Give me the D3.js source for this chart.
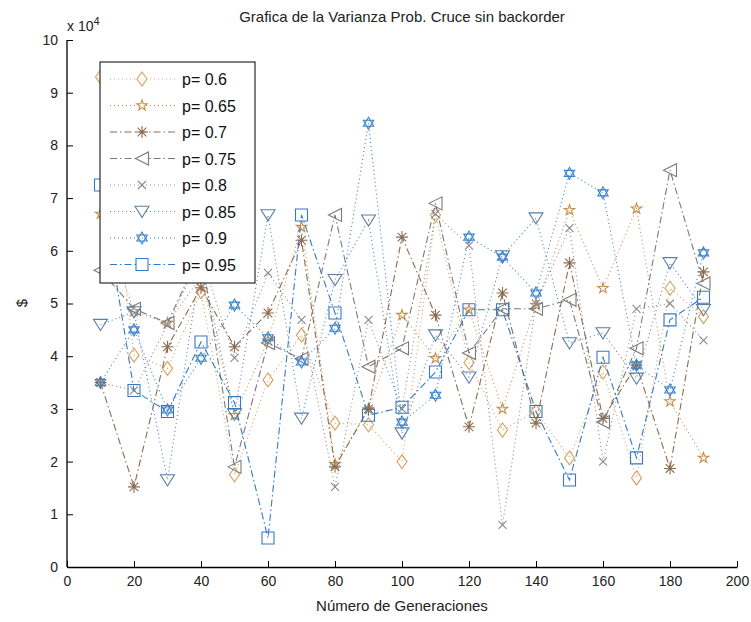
<!DOCTYPE html>
<html><head><meta charset="utf-8">
<script src="https://cdn.jsdelivr.net/npm/d3@7"></script>
<style>body{margin:0;background:#fff}svg{font-family:"Liberation Sans",Arial,sans-serif}</style>
</head><body><svg id="c" width="751" height="622"></svg>
<script>
const generations = [10,20,30,40,50,60,70,80,90,100,110,120,130,140,150,160,170,180,190];
const seriesNames = ["p= 0.6","p= 0.65","p= 0.7","p= 0.75","p= 0.8","p= 0.85","p= 0.9","p= 0.95"];
const p060 = [93000,40200,37700,52200,17500,35500,44000,27300,27000,20000,66800,38800,26000,29500,20700,37000,16900,52900,47500];
const p065 = [67000,48500,46300,55000,28800,43000,64500,19500,30000,47800,39600,48800,30000,49700,67700,52900,68000,31400,20700];
const p070 = [35000,15200,41800,53000,41800,48200,62000,19000,30000,62600,47800,26600,52000,27300,57700,28200,38300,18700,56000];
const p075 = [56300,49000,46300,60000,19000,42500,39500,66800,38000,41500,69000,40600,49000,49000,50700,27500,41500,75300,53800];
const p080 = [35000,33500,46000,59000,39700,55800,46900,15200,46900,30000,67000,61000,8000,50000,64300,20000,49000,50000,43000];
const p085 = [46000,48400,16500,58000,29000,66800,28200,54500,65800,25400,44000,36000,59000,66200,42500,44400,35800,57700,48800];
const p090 = [35000,45000,29800,39600,49700,43500,38900,45300,84200,27500,32600,62600,58800,52000,74700,71000,38300,33600,59600];
const p095 = [72500,33500,29500,42700,31200,5500,66800,48200,28800,30300,37000,48800,48800,29500,16500,39800,20700,46900,51200];
const xTicks = [0,20,40,60,80,100,120,140,160,180,200];
const yTicks = [0,10000,20000,30000,40000,50000,60000,70000,80000,90000,100000];

const seriesValues = [p060,p065,p070,p075,p080,p085,p090,p095];
const colors = ["#d9a05e","#c48f4a","#8c6c50","#7a7a7a","#8a8a8a","#5a7fa8","#3a82cc","#3479c6"];
const markers = ["diamond","pentagram","asterisk","tleft","xmark","tdown","hexagram","square"];
const dashes = ["1,3","1,3","7,3,1.5,3","7,3,1.5,3","1,3","1,3","1,3","7,3,1.5,3"];

const svg = d3.select("#c");
const L=67,R=737,T=40,B=567;
const x = d3.scaleLinear().domain([0,200]).range([L,R]);
const y = d3.scaleLinear().domain([0,100000]).range([B,T]);

function markerPath(t){
  const p = d3.path();
  if(t==="diamond"){const s=7;p.moveTo(0,-s);p.lineTo(s*0.72,0);p.lineTo(0,s);p.lineTo(-s*0.72,0);p.closePath();}
  else if(t==="pentagram"){return d3.symbol(d3.symbolStar,34)();}
  else if(t==="asterisk"){const s=6,d=4.3;p.moveTo(-s,0);p.lineTo(s,0);p.moveTo(0,-s);p.lineTo(0,s);p.moveTo(-d,-d);p.lineTo(d,d);p.moveTo(-d,d);p.lineTo(d,-d);}
  else if(t==="tleft"){const s=6.5;p.moveTo(-s,0);p.lineTo(s,-s);p.lineTo(s,s);p.closePath();}
  else if(t==="xmark"){const s=4;p.moveTo(-s,-s);p.lineTo(s,s);p.moveTo(-s,s);p.lineTo(s,-s);}
  else if(t==="tdown"){const s=7;p.moveTo(-s,-s*0.75);p.lineTo(s,-s*0.75);p.lineTo(0,s*0.85);p.closePath();}
  else if(t==="hexagram"){const s=6;const a=[];for(let k=0;k<3;k++){const an=-Math.PI/2+k*2*Math.PI/3;a.push([s*Math.cos(an),s*Math.sin(an)]);}
    p.moveTo(a[0][0],a[0][1]);p.lineTo(a[1][0],a[1][1]);p.lineTo(a[2][0],a[2][1]);p.closePath();
    const b=a.map(v=>[v[0],-v[1]]);p.moveTo(b[0][0],b[0][1]);p.lineTo(b[1][0],b[1][1]);p.lineTo(b[2][0],b[2][1]);p.closePath();}
  else if(t==="square"){const s=6;p.rect(-s,-s,2*s,2*s);}
  return p.toString();
}

// axes
const xAxis = d3.axisBottom(x).tickValues(xTicks).tickSizeInner(-6).tickSizeOuter(0).tickPadding(9);
const gx = svg.append("g").attr("transform",`translate(0,${B})`).call(xAxis);
const yAxis = d3.axisLeft(y).tickValues(yTicks).tickSizeInner(-6).tickSizeOuter(0).tickPadding(9).tickFormat(d=>d/10000);
const gy = svg.append("g").attr("transform",`translate(${L},0)`).call(yAxis);
[gx,gy].forEach(g=>{g.select(".domain").attr("stroke","#000").attr("stroke-width",1.3);
  g.selectAll(".tick line").attr("stroke","#000");
  g.selectAll(".tick text").attr("font-size",14).attr("fill","#222").attr("font-family","Liberation Sans, Arial, sans-serif");});
gy.select(".domain").attr("d",`M0,${B}V${T}`);

// series
seriesValues.forEach((vals,i)=>{
  const data = generations.map((g,j)=>[g,vals[j]]);
  const g = svg.append("g");
  g.append("path").datum(data).attr("fill","none").attr("stroke",colors[i]).attr("stroke-width",1.1)
    .attr("stroke-dasharray",dashes[i]).attr("d",d3.line().x(d=>x(d[0])).y(d=>y(d[1])));
  g.selectAll("path.m").data(data).join("path").attr("class","m")
    .attr("transform",d=>`translate(${x(d[0])},${y(d[1])})`)
    .attr("d",markerPath(markers[i])).attr("fill","none").attr("stroke",colors[i]).attr("stroke-width",1.1);
});

// legend
const lg = svg.append("g");
lg.append("rect").attr("x",100).attr("y",62).attr("width",155).attr("height",221).attr("fill","#fff").attr("stroke","#000").attr("stroke-width",1);
seriesNames.forEach((n,i)=>{
  const yy = 79 + i*26.5;
  lg.append("line").attr("x1",110).attr("x2",175).attr("y1",yy).attr("y2",yy).attr("stroke",colors[i]).attr("stroke-width",1.1).attr("stroke-dasharray",dashes[i]);
  lg.append("path").attr("transform",`translate(142,${yy})`).attr("d",markerPath(markers[i])).attr("fill","#fff").attr("stroke",colors[i]).attr("stroke-width",1.1);
  lg.append("text").attr("x",182).attr("y",yy+6).attr("font-size",16).attr("fill","#111").text(n);
});

// texts
svg.append("text").attr("x",402).attr("y",22).attr("text-anchor","middle").attr("font-size",15).attr("fill","#222").text("Grafica de la Varianza Prob. Cruce sin backorder");
const mt = svg.append("text").attr("x",67).attr("y",31).attr("font-size",14).attr("fill","#222");
mt.append("tspan").text("x 10");
mt.append("tspan").attr("dy",-6).attr("font-size",11).text("4");
svg.append("text").attr("transform","translate(27,303) rotate(-90)").attr("text-anchor","middle").attr("font-size",15).attr("fill","#222").text("$");
svg.append("text").attr("x",402).attr("y",611).attr("text-anchor","middle").attr("font-size",15).attr("fill","#222").text("Número de Generaciones");
</script></body></html>
